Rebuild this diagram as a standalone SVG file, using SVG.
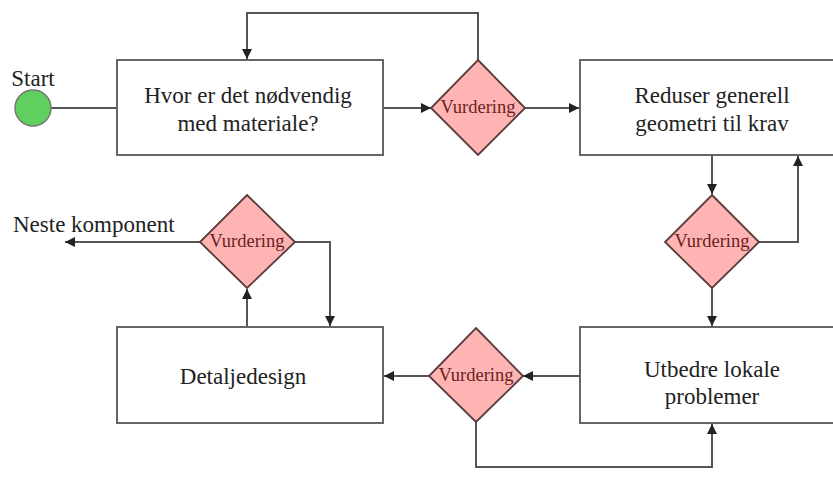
<svg xmlns="http://www.w3.org/2000/svg" width="833" height="491" viewBox="0 0 833 491">
<style>
.box{fill:#fff;stroke:#666;stroke-width:2}
.dia{fill:#ffb4b4;stroke:#5a3a3a;stroke-width:1.8}
.lbl{font-family:"Liberation Serif","DejaVu Serif",serif;font-size:23px;fill:#222;text-anchor:middle}
.vl{font-family:"Liberation Serif","DejaVu Serif",serif;font-size:18.5px;fill:#6a1e1e;text-anchor:middle}
.ln{fill:none;stroke:#555;stroke-width:2}
</style>
<defs>
<marker id="ah" viewBox="0 0 10 10" refX="10" refY="5" markerWidth="5" markerHeight="5" orient="auto" markerUnits="strokeWidth">
<path d="M0,0 L10,5 L0,10 z" fill="#222"/>
</marker>
</defs>
<g id="connectors">
<path class="ln" d="M51,108 H117"/>
<path class="ln" d="M383,108 H431" marker-end="url(#ah)"/>
<path class="ln" d="M478,60 V13 H247 V59" marker-end="url(#ah)"/>
<path class="ln" d="M525,108 H579" marker-end="url(#ah)"/>
<path class="ln" d="M712,155 V194" marker-end="url(#ah)"/>
<path class="ln" d="M759,242 H798 V156" marker-end="url(#ah)"/>
<path class="ln" d="M712,288 V326" marker-end="url(#ah)"/>
<path class="ln" d="M580,376 H523" marker-end="url(#ah)"/>
<path class="ln" d="M476,422 V467 H712 V424" marker-end="url(#ah)"/>
<path class="ln" d="M429,376 H384" marker-end="url(#ah)"/>
<path class="ln" d="M247,327 V289" marker-end="url(#ah)"/>
<path class="ln" d="M295,242 H330 V326" marker-end="url(#ah)"/>
<path class="ln" d="M200,242 H65" marker-end="url(#ah)"/>
</g>
<g id="start">
<circle cx="33" cy="108" r="18" fill="#5fcf5f" stroke="#777" stroke-width="1.5"/>
<text x="33" y="86" class="lbl">Start</text>
</g>
<g id="box1">
<rect class="box" x="117" y="60" width="266" height="95"/>
<text class="lbl" x="248" y="103">Hvor er det nødvendig</text>
<text class="lbl" x="248" y="131">med materiale?</text>
</g>
<g id="dia1">
<polygon class="dia" points="478,60 525,108 478,155 431,108"/>
<text class="vl" x="478" y="113">Vurdering</text>
</g>
<g id="box2">
<rect class="box" x="580" y="60" width="260" height="95"/>
<text class="lbl" x="712" y="103">Reduser generell</text>
<text class="lbl" x="712" y="131">geometri til krav</text>
</g>
<g id="dia2">
<polygon class="dia" points="712,195 759,242 712,288 665,242"/>
<text class="vl" x="712" y="247">Vurdering</text>
</g>
<g id="box3">
<rect class="box" x="580" y="327" width="260" height="96"/>
<text class="lbl" x="712" y="377">Utbedre lokale</text>
<text class="lbl" x="712" y="404">problemer</text>
</g>
<g id="dia3">
<polygon class="dia" points="476,328 523,376 476,422 429,376"/>
<text class="vl" x="476" y="381">Vurdering</text>
</g>
<g id="box4">
<rect class="box" x="117" y="327" width="266" height="96"/>
<text class="lbl" x="243" y="384">Detaljedesign</text>
</g>
<g id="dia4">
<polygon class="dia" points="247,195 295,242 247,288 200,242"/>
<text class="vl" x="247" y="247">Vurdering</text>
</g>
<g id="next">
<text class="lbl" x="13" y="232" style="text-anchor:start">Neste komponent</text>
</g>
</svg>
